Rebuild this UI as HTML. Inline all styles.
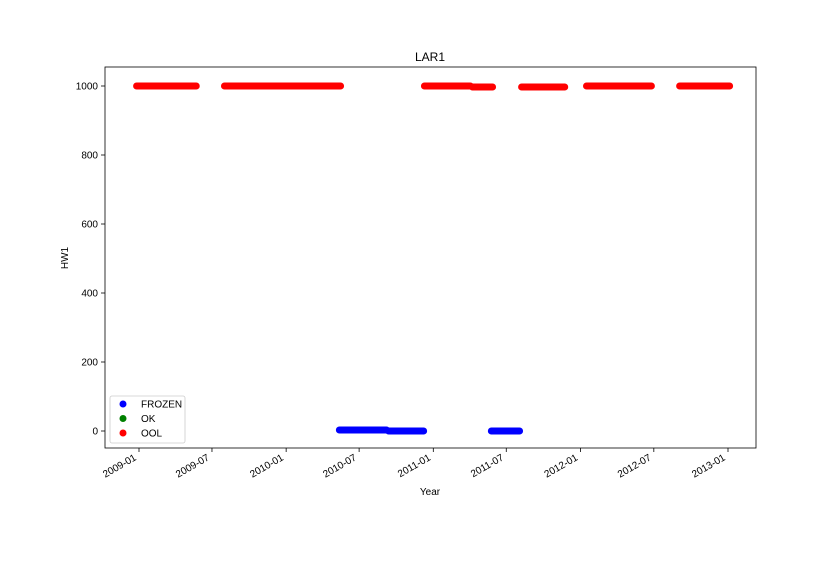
<!DOCTYPE html>
<html><head><meta charset="utf-8"><style>body{margin:0;background:#fff}svg{font-family:"Liberation Sans",sans-serif}</style></head>
<body>
<svg id="c" width="840" height="560"></svg>
<script>
const segStart=["2008-12-26","2009-08-01","2010-12-10","2011-04-08","2011-08-08","2012-01-16","2012-09-03","2010-05-13","2010-09-12","2011-05-25"];
const segEnd=["2009-05-23","2010-05-16","2011-04-03","2011-05-28","2011-11-23","2012-06-25","2013-01-05","2010-09-07","2010-12-08","2011-08-03"];
const segValue=[1000,1000,1000,997,997,1000,1000,3,0,0];
const segStatus=["OOL","OOL","OOL","OOL","OOL","OOL","OOL","FROZEN","FROZEN","FROZEN"];
const xTicks=["2009-01","2009-07","2010-01","2010-07","2011-01","2011-07","2012-01","2012-07","2013-01"];
const yTicks=[0,200,400,600,800,1000];
const colors={FROZEN:"#0000ff",OK:"#008000",OOL:"#ff0000"};
const svg=document.getElementById('c');const NS="http://www.w3.org/2000/svg";
function mk(t,a,p){const e=document.createElementNS(NS,t);for(const k in a)e.setAttribute(k,a[k]);(p||svg).appendChild(e);return e;}
const L=105,R=756,T=67,B=448;
const t0=Date.UTC(2009,0,1),t1=Date.UTC(2013,0,1);
function xs(s){const p=s.split('-');const d=Date.UTC(+p[0],+p[1]-1,p[2]?+p[2]:1);return 139+(d-t0)/(t1-t0)*(728-139);}
function ys(v){return 431-v*(431-86)/1000;}
mk('rect',{x:0,y:0,width:840,height:560,fill:'#fff'});
segStart.forEach((s,i)=>{const l=mk('line',{x1:xs(s),x2:xs(segEnd[i]),y1:ys(segValue[i]),y2:ys(segValue[i]),stroke:colors[segStatus[i]],'stroke-width':7,'stroke-linecap':'round'});

});
const ax=mk('rect',{x:L,y:T,width:R-L,height:B-T,fill:'none',stroke:'#000','stroke-width':0.8});

xTicks.forEach(t=>{const x=xs(t);mk('line',{x1:x,x2:x,y1:B,y2:B+4,stroke:'#000','stroke-width':0.8});
const ax0=x-4,ay0=B+12;
const tx=mk('text',{x:ax0,y:ay0,'font-size':10,'text-anchor':'end',transform:`rotate(-30 ${ax0} ${ay0-4})`});tx.textContent=t;
});
yTicks.forEach(v=>{const y=ys(v);mk('line',{x1:L-4,x2:L,y1:y,y2:y,stroke:'#000','stroke-width':0.8});
const tx=mk('text',{x:L-7,y:y+3.5,'font-size':10,'text-anchor':'end'});tx.textContent=v;
});
let t=mk('text',{x:430,y:61,'font-size':12,'text-anchor':'middle'});t.textContent='LAR1';
t=mk('text',{x:430,y:495,'font-size':10,'text-anchor':'middle'});t.textContent='Year';
t=mk('text',{x:68,y:258,'font-size':10,'text-anchor':'middle',transform:'rotate(-90 68 258)'});t.textContent='HW1';
const lg=mk('g',{});
mk('rect',{x:110,y:396,width:75,height:47,rx:2,fill:'#fff',stroke:'#ccc','stroke-width':0.8},lg);
["FROZEN","OK","OOL"].forEach((k,i)=>{const y=404+i*14.5;mk('circle',{cx:123,cy:y,r:3.5,fill:colors[k]},lg);
const e=mk('text',{x:141,y:y+3.5,'font-size':10},lg);e.textContent=k;});
</script>
</body></html>
